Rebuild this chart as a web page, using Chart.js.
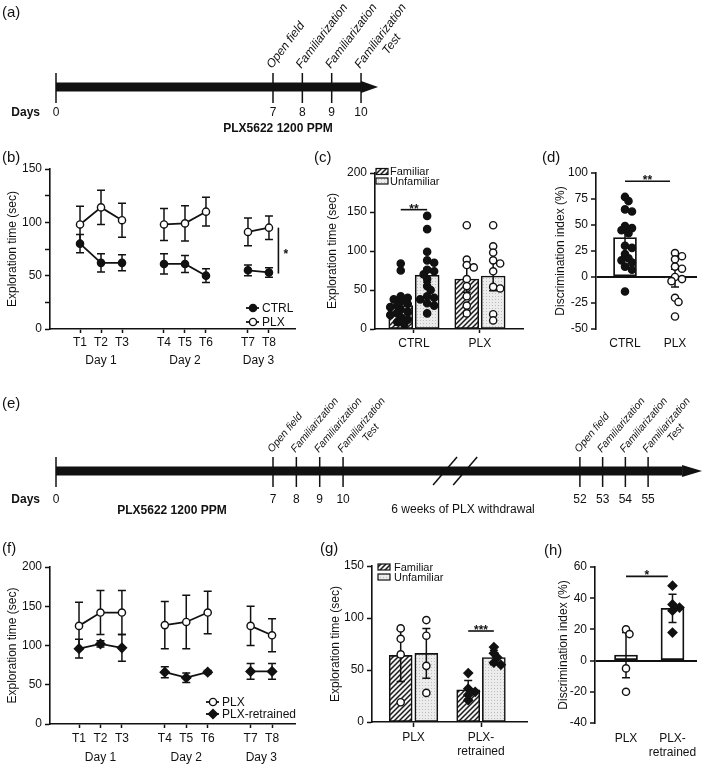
<!DOCTYPE html>
<html>
<head>
<meta charset="utf-8">
<title>PLX5622 object recognition figure</title>
<script src="https://cdn.jsdelivr.net/npm/chart.js@4.4.1/dist/chart.umd.min.js"></script>
<style>
  html, body { margin:0; padding:0; background:#fff; }
  #fig { position:relative; width:709px; height:766px; overflow:hidden; background:#fff;
         font-family:"Liberation Sans", Arial, Helvetica, sans-serif; color:#111; }
  #fig canvas { position:absolute; }
  .pl { position:absolute; font-size:15px; line-height:15px; }
</style>
</head>
<body>
<div id="fig">
  <canvas id="cA" width="709" height="140" style="left:0px;top:0px"></canvas>
  <canvas id="cB" width="310" height="235" style="left:0px;top:140px"></canvas>
  <canvas id="cC" width="230" height="235" style="left:300px;top:140px"></canvas>
  <canvas id="cD" width="189" height="235" style="left:520px;top:140px"></canvas>
  <canvas id="cE" width="709" height="140" style="left:0px;top:390px"></canvas>
  <canvas id="cF" width="310" height="231" style="left:0px;top:535px"></canvas>
  <canvas id="cG" width="215" height="231" style="left:320px;top:535px"></canvas>
  <canvas id="cH" width="169" height="231" style="left:540px;top:535px"></canvas>
  <div class="pl" style="left:2px;top:4px">(a)</div>
  <div class="pl" style="left:2px;top:149px">(b)</div>
  <div class="pl" style="left:314px;top:149px">(c)</div>
  <div class="pl" style="left:542px;top:149px">(d)</div>
  <div class="pl" style="left:2px;top:395px">(e)</div>
  <div class="pl" style="left:2px;top:540px">(f)</div>
  <div class="pl" style="left:320px;top:540px">(g)</div>
  <div class="pl" style="left:544px;top:542px">(h)</div>
</div>
<script>
// ------------------------- DATA -------------------------
// timelines
const daysA = [0, 7, 8, 9, 10];
const eventDaysA = [7, 8, 9, 10];
const eventTextA = [['Open field'], ['Familiarization'], ['Familiarization'], ['Familiarization', 'Test']];
const daysE = [0, 7, 8, 9, 10, 52, 53, 54, 55];
const eventDaysE = [7, 8, 9, 10, 52, 53, 54, 55];
const eventTextE = [['Open field'], ['Familiarization'], ['Familiarization'], ['Familiarization', 'Test'],
                    ['Open field'], ['Familiarization'], ['Familiarization'], ['Familiarization', 'Test']];

// trials (b, f)
const trialLabels = ['T1', 'T2', 'T3', 'T4', 'T5', 'T6', 'T7', 'T8'];
const trialDay = [0, 0, 0, 1, 1, 1, 2, 2];
const dayLabels = ['Day 1', 'Day 2', 'Day 3'];

// (b)
const bCtrlMean = [80, 62, 62, 61, 61, 50, 55, 53];
const bCtrlSem  = [8.5, 8.5, 7.5, 9.5, 8, 6.5, 5, 4.5];
const bPlxMean  = [98, 114, 102, 98, 99, 110, 91, 95];
const bPlxSem   = [17, 16, 16, 15, 16.5, 13.5, 13, 11];

// (c)
const objGroups = ['CTRL', 'PLX'];
const cFamMean = [30, 64];
const cFamSem  = [6, 17];
const cUnfMean = [69, 68];
const cUnfSem  = [9, 19];
const cCtrlFamPts = [84, 75, 42, 40, 38, 35, 32, 30, 28, 25, 22, 20, 18, 15, 12, 9, 6];
const cCtrlUnfPts = [145, 128, 99, 88, 85, 76, 74, 70, 64, 55, 50, 42, 40, 38, 33, 30, 20];
const cPlxFamPts  = [133, 89, 82, 79, 64, 55, 42, 30, 20];
const cPlxUnfPts  = [133, 106, 98, 88, 84, 74, 54, 52, 19, 11];

// (d)
const dMean = [38, -1];
const dSem  = [8, 8.5];
const dCtrlPts = [77, 73, 65, 63, 49, 47, 45, 42, 30, 28, 22, 18, 16, 14, 10, 7, -14];
const dPlxPts  = [23, 20, 17, 10, 8, 0, -2, -4, -20, -24, -38];

// (f)
const fPlxMean = [125, 142, 142, 126, 130, 142, 125, 113];
const fPlxSem  = [30, 28, 28, 30, 34, 27, 25, 21];
const fRetMean = [96, 102, 97, 66, 59, 66, 67, 67];
const fRetSem  = [12, 4, 17, 7, 6, 2, 10, 10];

// (g)
const retGroups = ['PLX', ['PLX-', 'retrained']];
const gFamMean = [64, 31];
const gFamSem  = [25, 9];
const gUnfMean = [66, 62];
const gUnfSem  = [24, 7];
const gPlxFamPts = [90, 80, 65, 19];
const gPlxUnfPts = [98, 83, 54, 28];
const gRetFamPts = [47, 32, 29, 26, 21];
const gRetUnfPts = [72, 66, 62, 57, 55];

// (h)
const hMean = [3.5, 33.5];
const hSem  = [14.5, 9];
const hPlxPts = [20, 17, -5, -20];
const hRetPts = [48, 36, 34, 32, 18];

// ------------------------- SETUP -------------------------
const BLACK = '#111';
const FONT = '"Liberation Sans", Arial, Helvetica, sans-serif';
Chart.defaults.font.family = FONT;
Chart.defaults.font.size = 12;
Chart.defaults.color = BLACK;
Chart.defaults.animation = false;
Chart.defaults.responsive = false;
Chart.defaults.devicePixelRatio = 1;
Chart.defaults.events = [];
Chart.defaults.plugins.legend.display = false;
Chart.defaults.plugins.tooltip.enabled = false;

function makeHatch() {
  const c = document.createElement('canvas'); c.width = 5; c.height = 5;
  const g = c.getContext('2d');
  g.fillStyle = '#f4f4f4'; g.fillRect(0, 0, 5, 5);
  g.strokeStyle = '#1a1a1a'; g.lineWidth = 1.5;
  g.beginPath();
  g.moveTo(-1, 6); g.lineTo(6, -1);
  g.moveTo(-1, 1); g.lineTo(1, -1);
  g.moveTo(4, 6); g.lineTo(6, 4);
  g.stroke();
  return g.createPattern(c, 'repeat');
}
function makeDots() {
  const c = document.createElement('canvas'); c.width = 3; c.height = 3;
  const g = c.getContext('2d');
  g.fillStyle = '#ececec'; g.fillRect(0, 0, 3, 3);
  g.fillStyle = '#bdbdbd'; g.fillRect(0, 0, 1, 1);
  return g.createPattern(c, 'repeat');
}
const famFill = makeHatch();
const unfFill = makeDots();

const tPos = trialDay.map((d, i) => i + 1 + d);
const dayPos = dayLabels.map((_, d) => {
  const p = tPos.filter((_, i) => trialDay[i] === d);
  return p.reduce((a, b) => a + b, 0) / p.length;
});

function linePoints(means, sems) {
  const pts = [];
  means.forEach((m, i) => {
    if (i > 0 && trialDay[i] !== trialDay[i - 1]) pts.push({ x: tPos[i] - 1, y: null });
    pts.push({ x: tPos[i], y: m, e: sems[i] });
  });
  return pts;
}
const filledCircle = { pointStyle: 'circle', pointRadius: 3.6, pointBackgroundColor: BLACK, backgroundColor: BLACK };
const openCircle   = { pointStyle: 'circle', pointRadius: 3.6, pointBackgroundColor: '#fff', backgroundColor: '#fff' };
const filledDiamond = { pointStyle: 'rectRot', pointRadius: 4.6, pointBackgroundColor: BLACK, backgroundColor: BLACK };

function lineDs(label, means, sems, style) {
  return Object.assign({
    label, data: linePoints(means, sems), hasErr: true, xAxisID: 'x', yAxisID: 'y',
    borderColor: BLACK, borderWidth: 1.8, pointBorderColor: BLACK, pointBorderWidth: 1.4,
    tension: 0, spanGaps: false, fill: false
  }, style);
}
function barDs(label, means, sems, off, fill, thick) {
  return {
    type: 'bar', label, data: means.map((m, i) => ({ x: i + off, y: m, e: sems[i] })), hasErr: true,
    backgroundColor: fill, borderColor: BLACK, borderWidth: 1.6, borderSkipped: false,
    barThickness: thick, grouped: false, order: 2, xAxisID: 'x', yAxisID: 'y'
  };
}
// beeswarm-like placement within a limited width: a point moves sideways only when
// it would overlap a point already placed; if every slot overlaps, the least crowded one is used
function swarm(values, center, sp) {
  const placed = [];
  return values.map(v => {
    const yp = v * sp.pxY;
    let best = 0, bestD = -1;
    for (let t = 0; t <= 2 * sp.maxK; t++) {
      const kk = t === 0 ? 0 : (t % 2 ? (t + 1) / 2 : -t / 2);
      const xp = kk * sp.step;
      const dmin = placed.reduce((m, p) => Math.min(m, Math.hypot(p.x - xp, p.y - yp)), Infinity);
      if (dmin >= sp.minD) { best = kk; bestD = dmin; break; }
      if (dmin > bestD) { bestD = dmin; best = kk; }
    }
    placed.push({ x: best * sp.step, y: yp });
    return { x: center + best * sp.step / sp.pxX, y: v };
  });
}
function dotDs(values, x, sp, style) {
  return Object.assign({
    type: 'scatter', data: swarm(values, x, sp), order: 1, xAxisID: 'x', yAxisID: 'y',
    pointBorderColor: BLACK, pointBorderWidth: 1.4
  }, style, { pointRadius: style.pointStyle === 'rectRot' ? 4.4 : 3.6 });
}

function xScale(o) {
  return {
    type: 'linear', min: o.min, max: o.max, position: 'bottom', weight: o.weight || 0, offset: false,
    afterBuildTicks: s => { s.ticks = o.pos.map(v => ({ value: v })); },
    afterFit: s => { s.height = o.height; },
    ticks: {
      autoSkip: false, maxRotation: 0, minRotation: 0, padding: o.pad, color: BLACK,
      callback: v => { const i = o.pos.indexOf(v); return i < 0 ? '' : o.labels[i]; }
    },
    grid: o.tick ? { display: true, offset: false, drawOnChartArea: false, drawTicks: true, tickLength: o.tick,
                     tickWidth: 1.5, tickColor: BLACK, color: BLACK }
                 : { display: false, offset: false, drawTicks: false, tickLength: 0 },
    border: { display: !!o.border, color: BLACK, width: 1.6 }
  };
}
function yScale(o) {
  return {
    type: 'linear', min: o.min, max: o.max, position: 'left',
    afterBuildTicks: s => { s.ticks = o.ticks.map(v => ({ value: v })); },
    afterFit: s => { s.width = o.width; },
    ticks: {
      autoSkip: false, padding: 3, color: BLACK,
      callback: v => (o.labelStep ? (v % o.labelStep === 0 ? String(v) : '') : String(v))
    },
    grid: o.zeroLine
      ? { display: true, drawOnChartArea: true, drawTicks: true, tickLength: 5, tickWidth: 1.5, tickColor: BLACK,
          lineWidth: 2, color: c => (c.tick && c.tick.value === 0) ? BLACK : 'rgba(0,0,0,0)' }
      : { display: true, drawOnChartArea: false, drawTicks: true, tickLength: 5, tickWidth: 1.5, tickColor: BLACK, color: BLACK },
    border: { display: true, color: BLACK, width: 1.6 },
    title: { display: true, text: o.title, color: BLACK, font: { size: 12 }, padding: { top: o.titlePad, bottom: 0 } }
  };
}

// ------------------------- PLUGINS -------------------------
function makeErrPlugin(layer, cap, width) {
  const draw = (chart, args) => {
    const ds = chart.data.datasets[args.index];
    if (!ds.hasErr) return;
    const meta = chart.getDatasetMeta(args.index);
    const xs = chart.scales[meta.xAxisID], ys = chart.scales[meta.yAxisID];
    const ctx = chart.ctx;
    ctx.save();
    ctx.strokeStyle = BLACK; ctx.lineWidth = width;
    ds.data.forEach(p => {
      if (p.y == null || p.e == null) return;
      const x = xs.getPixelForValue(p.x);
      const yt = ys.getPixelForValue(p.y + p.e), yb = ys.getPixelForValue(p.y - p.e);
      ctx.beginPath();
      ctx.moveTo(x, yt); ctx.lineTo(x, yb);
      ctx.moveTo(x - cap, yt); ctx.lineTo(x + cap, yt);
      ctx.moveTo(x - cap, yb); ctx.lineTo(x + cap, yb);
      ctx.stroke();
    });
    ctx.restore();
  };
  return layer === 'before' ? { id: 'err', beforeDatasetDraw: draw } : { id: 'err', afterDatasetDraw: draw };
}
function makeSigPlugin(marks) {
  return {
    id: 'sig',
    afterDatasetsDraw(chart) {
      const xs = chart.scales.x, ys = chart.scales.y, ctx = chart.ctx;
      ctx.save();
      ctx.strokeStyle = BLACK; ctx.fillStyle = BLACK; ctx.lineWidth = 1.6;
      ctx.font = 'bold 12px ' + FONT;
      marks.forEach(m => {
        if (m.vertical) {
          const x = xs.getPixelForValue(m.x), y1 = ys.getPixelForValue(m.y1), y2 = ys.getPixelForValue(m.y2);
          ctx.beginPath(); ctx.moveTo(x, y1); ctx.lineTo(x, y2); ctx.stroke();
          ctx.textAlign = 'left'; ctx.textBaseline = 'alphabetic';
          ctx.fillText(m.text, x + 5, (y1 + y2) / 2 + 7);
        } else {
          const x1 = xs.getPixelForValue(m.x1), x2 = xs.getPixelForValue(m.x2), y = ys.getPixelForValue(m.y);
          ctx.beginPath(); ctx.moveTo(x1, y); ctx.lineTo(x2, y); ctx.stroke();
          ctx.textAlign = 'center'; ctx.textBaseline = 'alphabetic';
          ctx.fillText(m.text, (x1 + x2) / 2, y + 3);
        }
      });
      ctx.restore();
    }
  };
}
function drawMarker(ctx, ds, x, y) {
  ctx.fillStyle = ds.pointBackgroundColor; ctx.strokeStyle = BLACK; ctx.lineWidth = 1.4;
  ctx.beginPath();
  const r = ds.pointRadius;
  if (ds.pointStyle === 'rectRot') {
    ctx.moveTo(x, y - r); ctx.lineTo(x + r, y); ctx.lineTo(x, y + r); ctx.lineTo(x - r, y); ctx.closePath();
  } else {
    ctx.arc(x, y, r, 0, Math.PI * 2);
  }
  ctx.fill(); ctx.stroke();
}
function makeKeyPlugin(o) {
  return {
    id: 'key',
    afterDraw(chart) {
      const ca = chart.chartArea, ctx = chart.ctx;
      ctx.save();
      ctx.font = (o.font || 12) + 'px ' + FONT;
      ctx.textAlign = 'left'; ctx.textBaseline = 'middle';
      o.rows.forEach((di, r) => {
        const ds = chart.data.datasets[di];
        const x = (o.fromRight ? ca.right : ca.left) + o.dx;
        const y = (o.fromBottom ? ca.bottom : ca.top) + o.dy + r * o.step;
        if (o.kind === 'box') {
          ctx.fillStyle = ds.backgroundColor; ctx.fillRect(x, y - 3, 12, 6);
          ctx.strokeStyle = BLACK; ctx.lineWidth = 1.2; ctx.strokeRect(x, y - 3, 12, 6);
        } else {
          ctx.strokeStyle = BLACK; ctx.lineWidth = 1.8;
          ctx.beginPath(); ctx.moveTo(x - 7, y); ctx.lineTo(x + 6, y); ctx.stroke();
          drawMarker(ctx, ds, x, y);
        }
        ctx.fillStyle = BLACK;
        ctx.fillText(ds.label, x + o.textGap, y + 0.5);
      });
      ctx.restore();
    }
  };
}
function makeTimeline(o) {
  return {
    id: 'timeline',
    afterDraw(chart) {
      const xs = chart.scales.x, ctx = chart.ctx, k = o.knots;
      const pos = d => {
        for (let i = 1; i < k.length; i++) {
          if (d <= k[i][0] || i === k.length - 1) {
            const t = (d - k[i - 1][0]) / (k[i][0] - k[i - 1][0]);
            return k[i - 1][1] + t * (k[i][1] - k[i - 1][1]);
          }
        }
        return 0;
      };
      const px = d => xs.getPixelForValue(pos(d));
      const yc = o.yc, x0 = px(o.days[0]), xe = xs.getPixelForValue(o.arrowEnd);
      ctx.save();
      ctx.fillStyle = BLACK; ctx.strokeStyle = BLACK;
      ctx.fillRect(x0, yc - o.barH / 2, xe - o.head - x0, o.barH);
      ctx.beginPath();
      ctx.moveTo(xe - o.head, yc - o.headH); ctx.lineTo(xe, yc); ctx.lineTo(xe - o.head, yc + o.headH);
      ctx.closePath(); ctx.fill();
      ctx.lineWidth = 1.5;
      o.breaks.forEach(b => {
        const bx = xs.getPixelForValue(b);
        ctx.beginPath(); ctx.moveTo(bx - 12, yc + 14); ctx.lineTo(bx + 12, yc - 14); ctx.stroke();
      });
      ctx.font = '12px ' + FONT; ctx.textAlign = 'center'; ctx.textBaseline = 'middle';
      o.days.forEach(d => {
        const x = px(d);
        ctx.beginPath(); ctx.moveTo(x, yc - o.tickUp); ctx.lineTo(x, yc + o.tickDown); ctx.stroke();
        ctx.fillText(String(d), x, o.dayY);
      });
      ctx.font = 'bold 12px ' + FONT; ctx.textAlign = 'right';
      ctx.fillText('Days', x0 - 16, o.dayY);
      o.captions.forEach(c => {
        ctx.font = (c.bold ? 'bold ' : '') + '12px ' + FONT; ctx.textAlign = 'center';
        ctx.fillText(c.text, xs.getPixelForValue(c.pos), c.y);
      });
      ctx.font = 'italic ' + o.evFont + 'px ' + FONT;
      o.events.forEach((d, i) => {
        const lines = o.texts[i];
        ctx.save();
        ctx.translate(px(d) + o.evDx, yc - o.tickUp - o.evDy);
        ctx.rotate(-o.angle * Math.PI / 180);
        ctx.textAlign = 'left'; ctx.textBaseline = 'alphabetic';
        ctx.fillText(lines[0], 0, 0);
        if (lines[1]) {
          const w = ctx.measureText(lines[0]).width;
          ctx.textAlign = 'center';
          ctx.fillText(lines[1], w / 2, o.evFont * 1.15);
        }
        ctx.restore();
      });
      ctx.restore();
    }
  };
}

function timelineChart(id, cfg) {
  return new Chart(document.getElementById(id), {
    type: 'scatter',
    data: { datasets: [] },
    options: {
      layout: { padding: { left: 56, right: 33, top: 0, bottom: 0 } },
      scales: { x: { type: 'linear', display: false, min: 0, max: 20 }, y: { type: 'linear', display: false, min: 0, max: 1 } }
    },
    plugins: [makeTimeline(cfg)]
  });
}

// swarm spacing per panel (pixels per unit of each axis, step and minimum distance in px, max slots per side)
const spC = { pxX: 66, pxY: 0.776, step: 3.5, minD: 5, maxK: 3 };
const spD = { pxX: 50, pxY: 1.04, step: 3.5, minD: 5, maxK: 3 };
const spG = { pxX: 67.5, pxY: 1.04, step: 3.5, minD: 5, maxK: 2 };
const spH = { pxX: 46.5, pxY: 1.565, step: 3.5, minD: 5, maxK: 2 };

// ------------------------- (a) -------------------------
timelineChart('cA', {
  days: daysA, events: eventDaysA, texts: eventTextA,
  knots: [[0, 0], [7, 7], [10, 9.84]], arrowEnd: 10.39,
  yc: 87, barH: 9, head: 17, headH: 6, tickUp: 14, tickDown: 16, dayY: 113,
  evFont: 12, angle: 53, evDx: -1, evDy: 4, breaks: [],
  captions: [{ pos: 7.16, y: 129, text: 'PLX5622 1200 PPM', bold: true }]
});

// ------------------------- (b) -------------------------
new Chart(document.getElementById('cB'), {
  type: 'line',
  data: { datasets: [lineDs('CTRL', bCtrlMean, bCtrlSem, filledCircle), lineDs('PLX', bPlxMean, bPlxSem, openCircle)] },
  options: {
    layout: { padding: { top: 29, right: 15, bottom: 0, left: 0 } },
    scales: {
      x: xScale({ min: -0.43, max: 11.24, pos: tPos, labels: trialLabels, height: 20, tick: 4, pad: 2, border: true }),
      xd: xScale({ min: -0.43, max: 11.24, pos: dayPos, labels: dayLabels, height: 26, tick: 0, pad: 4, weight: 1 }),
      y: yScale({ min: 0, max: 150, ticks: [0, 25, 50, 75, 100, 125, 150], labelStep: 50, width: 50,
                  title: 'Exploration time (sec)', titlePad: 5 })
    }
  },
  plugins: [makeErrPlugin('before', 4, 1.5),
            makeSigPlugin([{ vertical: true, x: 10.45, y1: 52, y2: 95, text: '*' }]),
            makeKeyPlugin({ kind: 'line', rows: [0, 1], fromRight: true, fromBottom: true, dx: -42, dy: -21, step: 14, textGap: 9 })]
});

// ------------------------- (c) -------------------------
new Chart(document.getElementById('cC'), {
  type: 'bar',
  data: { datasets: [
    barDs('Familiar', cFamMean, cFamSem, -0.2, famFill, 24),
    barDs('Unfamiliar', cUnfMean, cUnfSem, 0.2, unfFill, 24),
    dotDs(cCtrlFamPts, -0.2, spC, filledCircle),
    dotDs(cCtrlUnfPts, 0.2, spC, filledCircle),
    dotDs(cPlxFamPts, 0.8, spC, openCircle),
    dotDs(cPlxUnfPts, 1.2, spC, openCircle)
  ] },
  options: {
    layout: { padding: { top: 33, right: 7, bottom: 0, left: 0 } },
    scales: {
      x: xScale({ min: -0.59, max: 1.652, pos: [0, 1], labels: objGroups, height: 46, tick: 4, pad: 3, border: true }),
      y: yScale({ min: 0, max: 200, ticks: [0, 50, 100, 150, 200], width: 75, title: 'Exploration time (sec)', titlePad: 25 })
    }
  },
  plugins: [makeErrPlugin('after', 4, 1.5),
            makeSigPlugin([{ x1: -0.2, x2: 0.2, y: 153, text: '**' }]),
            makeKeyPlugin({ kind: 'box', rows: [0, 1], dx: 1, dy: -1.5, step: 9.5, textGap: 14, font: 11 })]
});

// ------------------------- (d) -------------------------
new Chart(document.getElementById('cD'), {
  type: 'bar',
  data: { datasets: [
    { type: 'bar', label: 'Discrimination index', data: dMean.map((m, i) => ({ x: i, y: m, e: dSem[i] })), hasErr: true,
      backgroundColor: '#fff', borderColor: BLACK, borderWidth: 1.8, borderSkipped: false, barThickness: 23,
      grouped: false, order: 2, xAxisID: 'x', yAxisID: 'y' },
    dotDs(dCtrlPts, 0, spD, filledCircle),
    dotDs(dPlxPts, 1, spD, openCircle)
  ] },
  options: {
    layout: { padding: { top: 33, right: 12, bottom: 0, left: 0 } },
    scales: {
      x: xScale({ min: -0.58, max: 1.44, pos: [0, 1], labels: objGroups, height: 46, tick: 0, pad: 7, border: false }),
      y: yScale({ min: -50, max: 100, ticks: [-50, -25, 0, 25, 50, 75, 100], width: 76,
                  title: 'Discrimination index (%)', titlePad: 33, zeroLine: true })
    }
  },
  plugins: [makeErrPlugin('after', 4, 1.5), makeSigPlugin([{ x1: 0, x2: 0.9, y: 92, text: '**' }])]
});

// ------------------------- (e) -------------------------
timelineChart('cE', {
  days: daysE, events: eventDaysE, texts: eventTextE,
  knots: [[0, 0], [7, 7], [10, 9.26], [52, 16.9], [55, 19.1]], arrowEnd: 20.84,
  yc: 81, barH: 9, head: 20, headH: 6, tickUp: 14, tickDown: 16, dayY: 110,
  evFont: 10.5, angle: 50, evDx: -1, evDy: 4, breaks: [12.55, 13.2],
  captions: [{ pos: 3.74, y: 121, text: 'PLX5622 1200 PPM', bold: true },
             { pos: 13.13, y: 120, text: '6 weeks of PLX withdrawal', bold: false }]
});

// ------------------------- (f) -------------------------
new Chart(document.getElementById('cF'), {
  type: 'line',
  data: { datasets: [lineDs('PLX', fPlxMean, fPlxSem, openCircle), lineDs('PLX-retrained', fRetMean, fRetSem, filledDiamond)] },
  options: {
    layout: { padding: { top: 32, right: 15, bottom: 0, left: 0 } },
    scales: {
      x: xScale({ min: -0.353, max: 11.07, pos: tPos, labels: trialLabels, height: 20, tick: 4, pad: 3, border: true }),
      xd: xScale({ min: -0.353, max: 11.07, pos: dayPos, labels: dayLabels, height: 22, tick: 0, pad: 6, weight: 1 }),
      y: yScale({ min: 0, max: 200, ticks: [0, 50, 100, 150, 200], width: 50, title: 'Exploration time (sec)', titlePad: 5 })
    }
  },
  plugins: [makeErrPlugin('before', 4, 1.5),
            makeKeyPlugin({ kind: 'line', rows: [0, 1], fromRight: true, fromBottom: true, dx: -82, dy: -22, step: 12, textGap: 9 })]
});

// ------------------------- (g) -------------------------
new Chart(document.getElementById('cG'), {
  type: 'bar',
  data: { datasets: [
    barDs('Familiar', gFamMean, gFamSem, -0.19, famFill, 23),
    barDs('Unfamiliar', gUnfMean, gUnfSem, 0.19, unfFill, 23),
    dotDs(gPlxFamPts, -0.19, spG, openCircle),
    dotDs(gPlxUnfPts, 0.19, spG, openCircle),
    dotDs(gRetFamPts, 0.81, spG, filledDiamond),
    dotDs(gRetUnfPts, 1.19, spG, filledDiamond)
  ] },
  options: {
    layout: { padding: { top: 31, right: 8, bottom: 0, left: 0 } },
    scales: {
      x: xScale({ min: -0.615, max: 1.681, pos: [0, 1], labels: retGroups, height: 44, tick: 5, pad: 3, border: true }),
      y: yScale({ min: 0, max: 150, ticks: [0, 50, 100, 150], width: 52, title: 'Exploration time (sec)', titlePad: 8 })
    }
  },
  plugins: [makeErrPlugin('after', 4, 1.5),
            makeSigPlugin([{ x1: 0.81, x2: 1.19, y: 87.5, text: '***' }]),
            makeKeyPlugin({ kind: 'box', rows: [0, 1], dx: 6, dy: 1, step: 10, textGap: 16, font: 11 })]
});

// ------------------------- (h) -------------------------
new Chart(document.getElementById('cH'), {
  type: 'bar',
  data: { datasets: [
    { type: 'bar', label: 'Discrimination index', data: hMean.map((m, i) => ({ x: i, y: m, e: hSem[i] })), hasErr: true,
      backgroundColor: '#fff', borderColor: BLACK, borderWidth: 1.8, borderSkipped: false, barThickness: 23,
      grouped: false, order: 2, xAxisID: 'x', yAxisID: 'y' },
    dotDs(hPlxPts, 0, spH, openCircle),
    dotDs(hRetPts, 1, spH, filledDiamond)
  ] },
  options: {
    layout: { padding: { top: 32, right: 12, bottom: 0, left: 0 } },
    scales: {
      x: xScale({ min: -0.667, max: 1.527, pos: [0, 1], labels: retGroups, height: 43, tick: 0, pad: 8, border: false }),
      y: yScale({ min: -40, max: 60, ticks: [-40, -20, 0, 20, 40, 60], width: 55,
                  title: 'Discrimination index (%)', titlePad: 16, zeroLine: true })
    }
  },
  plugins: [makeErrPlugin('after', 4, 1.5), makeSigPlugin([{ x1: 0, x2: 0.9, y: 54, text: '*' }])]
});
</script>
</body>
</html>
